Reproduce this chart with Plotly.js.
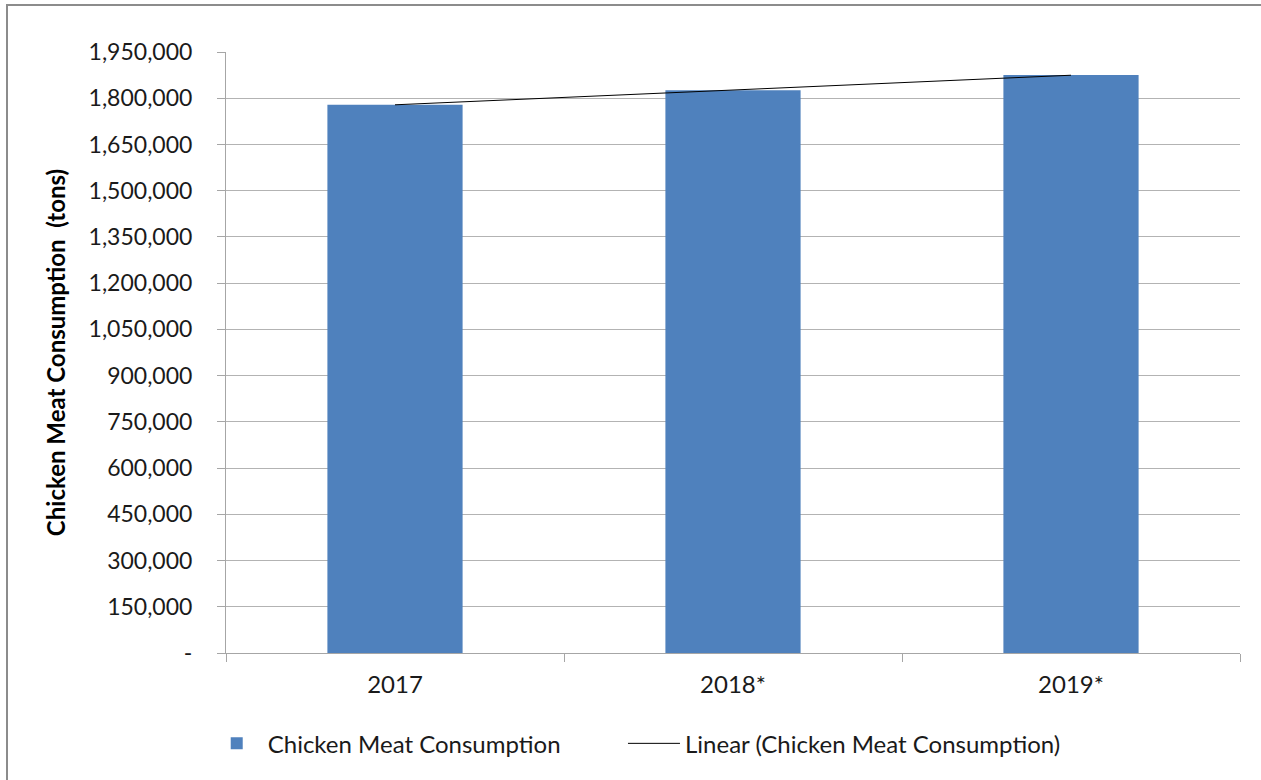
<!DOCTYPE html>
<html>
<head>
<meta charset="utf-8">
<script src="https://cdn.plot.ly/plotly-3.0.1.min.js"></script>
<style>
  html, body { margin: 0; padding: 0; background: #fff; overflow: hidden; }
  #frame { position: absolute; left: 6px; top: 4px; width: 1300px; height: 820px;
           border: 2px solid #8c8c8c; box-sizing: border-box; pointer-events: none; z-index: 5; }
  #chart { position: absolute; left: 0; top: 0; width: 1261px; height: 780px; }
</style>
</head>
<body>
<div id="frame"></div>
<div id="chart"></div>
<script>
const categories = ["2017", "2018*", "2019*"];
const consumption = [1779000, 1826000, 1875000];
const yTickVals = [0, 150000, 300000, 450000, 600000, 750000, 900000, 1050000, 1200000, 1350000, 1500000, 1650000, 1800000, 1950000];
const yTickText = ["-", "150,000", "300,000", "450,000", "600,000", "750,000", "900,000", "1,050,000", "1,200,000", "1,350,000", "1,500,000", "1,650,000", "1,800,000", "1,950,000"];

// Linear trend (least squares) over category index
const n = consumption.length;
const xs = consumption.map((_, i) => i + 1);
const mx = xs.reduce((a, b) => a + b, 0) / n;
const my = consumption.reduce((a, b) => a + b, 0) / n;
let sxy = 0, sxx = 0;
for (let i = 0; i < n; i++) { sxy += (xs[i] - mx) * (consumption[i] - my); sxx += (xs[i] - mx) ** 2; }
const slope = sxy / sxx;
const trend = xs.map(x => my + slope * (x - mx));

const font = "Lato, 'Open Sans', sans-serif";
const txt = "#1a1a1a";

const traces = [
  {
    type: "bar",
    name: "Chicken Meat Consumption",
    x: categories,
    y: consumption,
    marker: { color: "#4F81BD" },
    legend: "legend",
    hoverinfo: "x+y"
  },
  {
    type: "scatter",
    mode: "lines",
    name: "Linear (Chicken Meat Consumption)",
    x: categories,
    y: trend,
    line: { color: "#000000", width: 1 },
    legend: "legend2"
  }
];

const layout = {
  width: 1261,
  height: 780,
  margin: { l: 226, r: 21, t: 52, b: 127 },
  paper_bgcolor: "rgba(0,0,0,0)",
  plot_bgcolor: "#ffffff",
  font: { family: font, size: 24, color: txt },
  bargap: 0.6,
  showlegend: true,
  legend: {
    orientation: "h",
    x: -0.02, xanchor: "left",
    y: -0.151, yanchor: "middle",
    font: { family: font, size: 24, color: txt },
    itemwidth: 52
  },
  legend2: {
    orientation: "h",
    x: 0.3915, xanchor: "left",
    y: -0.151, yanchor: "middle",
    font: { family: font, size: 24, color: txt },
    itemwidth: 52
  },
  xaxis: {
    type: "category",
    showgrid: false,
    showline: true,
    linecolor: "#a6a6a6",
    linewidth: 1,
    ticks: "outside",
    tickson: "boundaries",
    ticklen: 8,
    tickcolor: "#a6a6a6",
    ticklabelstandoff: 10,
    tickfont: { family: font, size: 24, color: txt },
    fixedrange: true
  },
  yaxis: {
    range: [0, 1950000],
    tickvals: yTickVals,
    ticktext: yTickText,
    showgrid: true,
    gridcolor: "#b3b3b3",
    gridwidth: 1,
    showline: true,
    linecolor: "#a6a6a6",
    linewidth: 1,
    ticks: "outside",
    ticklen: 8,
    tickcolor: "#a6a6a6",
    ticklabelstandoff: 20,
    zeroline: false,
    tickfont: { family: font, size: 23, color: txt },
    title: {
      text: "Chicken Meat Consumption  (tons)",
      font: { family: font, size: 24, color: "#000000", weight: "bold" },
      standoff: 16
    },
    fixedrange: true
  }
};

Plotly.newPlot("chart", traces, layout, { displayModeBar: false, staticPlot: true });
</script>
</body>
</html>
